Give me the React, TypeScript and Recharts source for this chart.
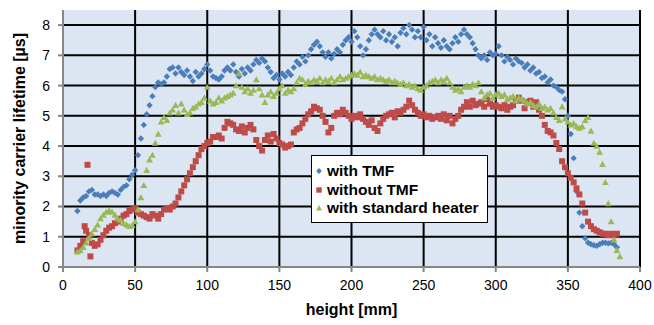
import { ScatterChart, Scatter, XAxis, YAxis, CartesianGrid, Legend, Label } from "recharts";

// ---------------------------------------------------------------------------
// Data (height in mm, lifetime in µs)
// ---------------------------------------------------------------------------

const xTicks = [0, 50, 100, 150, 200, 250, 300, 350, 400];
const yTicks = [0, 1, 2, 3, 4, 5, 6, 7, 8];
const seriesNames = ["with TMF", "without TMF", "with standard heater"];

const withTmf: [number, number][] = [
  [10, 1.85], [12, 2.2], [14, 2.3], [16, 2.35], [18, 2.5], [20, 2.55], [22, 2.4], [24, 2.4],
  [26, 2.35], [28, 2.4], [30, 2.35], [32, 2.45], [34, 2.5], [36, 2.45], [38, 2.4], [40, 2.55],
  [42, 2.65], [44, 2.7], [46, 2.9], [48, 3.05], [50, 3.2], [52, 3.7], [54, 4.25], [56, 4.7],
  [58, 5.05], [60, 5.35], [62, 5.65], [64, 5.95], [66, 6.1], [68, 6.05], [70, 6.1], [72, 6.3],
  [74, 6.55], [76, 6.6], [78, 6.4], [80, 6.6], [82, 6.45], [84, 6.35], [86, 6.5], [88, 6.3],
  [90, 6.15], [92, 6.45], [94, 6.3], [96, 6.4], [98, 6.55], [100, 6.7], [102, 6.5], [104, 6.3],
  [106, 6.25], [108, 6.2], [110, 6.3], [112, 6.5], [114, 6.6], [116, 6.5], [118, 6.7], [120, 6.45],
  [122, 6.3], [124, 6.55], [126, 6.4], [128, 6.6], [130, 6.5], [132, 6.7], [134, 6.85], [136, 6.75],
  [138, 6.9], [140, 6.8], [142, 6.6], [144, 6.45], [146, 6.25], [148, 6.35], [150, 6.2], [152, 6.4],
  [154, 6.3], [156, 6.45], [158, 6.35], [160, 6.6], [162, 6.8], [164, 6.7], [166, 6.95], [168, 6.8],
  [170, 7.0], [172, 7.2], [174, 7.35], [176, 7.45], [178, 7.3], [180, 7.1], [182, 6.95], [184, 7.1],
  [186, 6.9], [188, 7.05], [190, 7.2], [192, 7.1], [194, 7.35], [196, 7.5], [198, 7.6], [200, 7.45],
  [202, 7.8], [204, 7.6], [206, 7.3], [208, 7.0], [210, 7.2], [212, 7.5], [214, 7.7], [216, 7.85],
  [218, 7.7], [220, 7.6], [222, 7.8], [224, 7.5], [226, 7.7], [228, 7.45], [230, 7.6], [232, 7.3],
  [234, 7.75], [236, 7.9], [238, 7.7], [240, 8.0], [242, 7.85], [244, 7.6], [246, 7.8], [248, 7.6],
  [250, 7.95], [252, 7.5], [254, 7.7], [256, 7.3], [258, 7.6], [260, 7.4], [262, 7.25], [264, 7.5],
  [266, 7.3], [268, 7.2], [270, 7.4], [272, 7.6], [274, 7.45], [276, 7.7], [278, 7.85], [280, 7.7],
  [282, 7.6], [284, 7.4], [286, 7.2], [288, 7.0], [290, 6.9], [292, 7.0], [294, 6.85], [296, 7.1],
  [298, 7.0], [300, 7.05], [302, 7.3], [304, 7.0], [306, 6.8], [308, 6.95], [310, 6.85], [312, 6.7],
  [314, 6.9], [316, 6.8], [318, 6.75], [320, 6.6], [322, 6.7], [324, 6.5], [326, 6.6], [328, 6.4],
  [330, 6.45], [332, 6.25], [334, 6.3], [336, 6.1], [338, 6.2], [340, 6.0], [342, 5.95], [344, 5.85],
  [346, 5.8], [348, 5.55], [350, 5.0], [352, 4.4], [354, 3.6], [356, 2.5], [358, 1.8], [360, 1.35],
  [362, 0.95], [364, 0.8], [366, 0.75], [368, 0.72], [370, 0.7], [372, 0.75], [374, 0.8], [376, 0.8],
  [378, 0.78], [380, 0.8], [382, 0.75], [384, 0.65],
];

const withoutTmf: [number, number][] = [
  [10, 0.55], [12, 0.7], [14, 0.85], [15, 1.35], [16, 1.2], [17, 3.38], [18, 1.05], [19, 0.35],
  [20, 0.8], [22, 0.7], [24, 0.75], [26, 0.9], [28, 1.05], [30, 1.2], [32, 1.3], [34, 1.35],
  [36, 1.45], [38, 1.5], [40, 1.6], [42, 1.7], [44, 1.75], [46, 1.85], [48, 1.9], [50, 1.95],
  [52, 1.8], [54, 1.75], [56, 1.7], [58, 1.65], [60, 1.6], [62, 1.75], [64, 1.7], [66, 1.6],
  [68, 1.75], [70, 1.9], [72, 1.95], [74, 1.9], [76, 2.0], [78, 2.1], [80, 2.3], [82, 2.5],
  [84, 2.7], [86, 2.9], [88, 3.1], [90, 3.3], [92, 3.5], [94, 3.7], [96, 3.9], [98, 4.0],
  [100, 4.1], [102, 4.15], [104, 4.3], [106, 4.3], [108, 4.35], [110, 4.25], [112, 4.6], [114, 4.8],
  [116, 4.75], [118, 4.7], [120, 4.55], [122, 4.5], [124, 4.65], [126, 4.45], [128, 4.6], [130, 4.7],
  [132, 4.55], [134, 4.2], [136, 4.0], [138, 3.85], [140, 4.2], [142, 4.35], [144, 4.15], [146, 4.4],
  [148, 4.25], [150, 4.1], [152, 4.05], [154, 3.95], [156, 4.0], [158, 4.05], [160, 4.45], [162, 4.55],
  [164, 4.6], [166, 4.75], [168, 4.9], [170, 5.05], [172, 5.15], [174, 5.3], [176, 5.25], [178, 5.2],
  [180, 5.0], [182, 4.8], [184, 4.45], [186, 4.6], [188, 5.0], [190, 5.1], [192, 5.05], [194, 5.2],
  [196, 5.1], [198, 5.0], [200, 4.9], [202, 5.0], [204, 4.95], [206, 5.05], [208, 4.9], [210, 4.8],
  [212, 4.7], [214, 4.85], [216, 4.6], [218, 4.5], [220, 4.75], [222, 4.9], [224, 5.0], [226, 5.05],
  [228, 5.1], [230, 4.95], [232, 5.15], [234, 5.1], [236, 5.2], [238, 5.3], [240, 5.5], [242, 5.35],
  [244, 5.2], [246, 5.1], [248, 5.0], [250, 5.05], [252, 4.95], [254, 5.0], [256, 4.9], [258, 4.95],
  [260, 5.0], [262, 4.9], [264, 5.05], [266, 4.85], [268, 5.0], [270, 4.75], [272, 4.9], [274, 5.0],
  [276, 5.2], [278, 5.3], [280, 5.45], [282, 5.3], [284, 5.5], [286, 5.35], [288, 5.4], [290, 5.45],
  [292, 5.3], [294, 5.55], [296, 5.4], [298, 5.3], [300, 5.35], [302, 5.3], [304, 5.25], [306, 5.35],
  [308, 5.2], [310, 5.3], [312, 5.35], [314, 5.5], [316, 5.6], [318, 5.5], [320, 5.25], [322, 5.45],
  [324, 5.5], [326, 5.3], [328, 5.45], [330, 5.2], [332, 5.0], [334, 4.7], [336, 4.5], [338, 4.45],
  [340, 4.35], [342, 4.1], [344, 3.9], [346, 3.5], [348, 3.3], [350, 3.1], [352, 2.95], [354, 2.8],
  [356, 2.6], [358, 2.4], [360, 2.1], [362, 1.8], [364, 1.5], [366, 1.35], [368, 1.25], [370, 1.2],
  [372, 1.15], [374, 1.1], [376, 1.1], [378, 1.05], [380, 1.1], [382, 1.05], [384, 1.1],
];

const standardHeater: [number, number][] = [
  [10, 0.5], [12, 0.55], [14, 0.65], [16, 0.8], [18, 0.95], [20, 1.1], [22, 1.25], [24, 1.4],
  [26, 1.6], [28, 1.72], [30, 1.82], [32, 1.87], [34, 1.82], [36, 1.72], [38, 1.6], [40, 1.55],
  [42, 1.45], [44, 1.4], [46, 1.35], [48, 1.38], [50, 1.5], [52, 1.9], [54, 2.3], [56, 2.7],
  [58, 3.2], [60, 3.55], [62, 3.7], [64, 4.1], [66, 4.4], [68, 4.8], [70, 4.95], [72, 4.85],
  [74, 5.1], [76, 5.2], [78, 5.35], [80, 5.1], [82, 5.4], [84, 5.2], [86, 5.05], [88, 5.1],
  [90, 5.25], [92, 5.3], [94, 5.4], [96, 5.45], [98, 5.6], [100, 5.95], [102, 5.5], [104, 5.4],
  [106, 5.45], [108, 5.6], [110, 5.5], [112, 5.6], [114, 5.65], [116, 5.7], [118, 5.75], [120, 6.0],
  [122, 6.4], [124, 5.95], [126, 5.8], [128, 5.9], [130, 5.75], [132, 5.85], [134, 6.2], [136, 5.9],
  [138, 5.7], [140, 5.45], [142, 5.7], [144, 5.8], [146, 5.65], [148, 5.75], [150, 5.9], [152, 6.0],
  [154, 5.75], [156, 5.85], [158, 5.8], [160, 5.9], [162, 6.1], [164, 6.25], [166, 6.2], [168, 6.05],
  [170, 6.15], [172, 6.1], [174, 6.2], [176, 6.15], [178, 6.25], [180, 6.1], [182, 6.2], [184, 6.15],
  [186, 6.25], [188, 6.1], [190, 6.2], [192, 6.3], [194, 6.2], [196, 6.25], [198, 6.3], [200, 6.35],
  [202, 6.4], [204, 6.35], [206, 6.45], [208, 6.3], [210, 6.35], [212, 6.3], [214, 6.25], [216, 6.3],
  [218, 6.2], [220, 6.25], [222, 6.2], [224, 6.15], [226, 6.2], [228, 6.1], [230, 6.15], [232, 6.1],
  [234, 6.05], [236, 6.1], [238, 6.0], [240, 6.05], [242, 5.95], [244, 6.0], [246, 5.9], [248, 5.85],
  [250, 5.95], [252, 6.0], [254, 6.1], [256, 6.15], [258, 6.2], [260, 6.1], [262, 6.2], [264, 6.15],
  [266, 6.25], [268, 6.1], [270, 5.95], [272, 5.85], [274, 5.9], [276, 5.8], [278, 5.95], [280, 6.0],
  [282, 5.95], [284, 6.05], [286, 6.0], [288, 6.1], [290, 5.8], [292, 5.6], [294, 5.7], [296, 5.75],
  [298, 5.6], [300, 5.7], [302, 5.75], [304, 5.65], [306, 5.7], [308, 5.55], [310, 5.6], [312, 5.65],
  [314, 5.5], [316, 5.6], [318, 5.55], [320, 5.5], [322, 5.4], [324, 5.45], [326, 5.35], [328, 5.3],
  [330, 5.4], [332, 5.25], [334, 5.3], [336, 5.2], [338, 5.25], [340, 5.1], [342, 4.95], [344, 4.85],
  [346, 5.3], [348, 4.9], [350, 4.8], [352, 4.7], [354, 4.75], [356, 4.65], [358, 4.6], [360, 4.65],
  [362, 4.85], [364, 4.95], [366, 4.5], [368, 4.1], [370, 4.0], [372, 3.8], [374, 3.4], [376, 2.8],
  [378, 2.1], [380, 1.5], [382, 0.9], [384, 0.55], [386, 0.35],
];

// ---------------------------------------------------------------------------
// Styling
// ---------------------------------------------------------------------------

const BLUE = "#4a7ebb";
const RED = "#be4b48";
const GREEN = "#98b954";
const AXIS_GRAY = "#878787";
const FONT = "'Liberation Sans', Arial, sans-serif";

const toPoints = (rows: [number, number][]) => rows.map(([x, y]) => ({ x, y }));

// marker shapes, drawn around the point centre
const diamond = (cx: number, cy: number, r: number) =>
  `M${cx},${cy - r}L${cx + r},${cy}L${cx},${cy + r}L${cx - r},${cy}Z`;
const square = (cx: number, cy: number, r: number) =>
  `M${cx - r},${cy - r}h${2 * r}v${2 * r}h${-2 * r}Z`;
const triangle = (cx: number, cy: number, r: number) =>
  `M${cx},${cy - r}L${cx + r},${cy + r * 0.8}L${cx - r},${cy + r * 0.8}Z`;

const markers = [
  { color: BLUE, path: diamond, r: 3.2, legendR: 2.9 },
  { color: RED, path: square, r: 3, legendR: 2.7 },
  { color: GREEN, path: triangle, r: 3.4, legendR: 3 },
];

function LegendBox() {
  return (
    <div
      style={{
        width: 177,
        height: 68,
        boxSizing: "border-box",
        background: "#fff",
        border: "1px solid #000",
        padding: "6px 0 0 2px",
        fontFamily: FONT,
        fontWeight: "bold",
        fontSize: 15.5,
        color: "#000",
      }}
    >
      {seriesNames.map((name, i) => (
        <div key={name} style={{ display: "flex", alignItems: "center", height: 18.5 }}>
          <svg width={10} height={10} style={{ marginRight: 3 }}>
            <path d={markers[i].path(5, 5, markers[i].legendR)} fill={markers[i].color} />
          </svg>
          <span style={{ lineHeight: "18px" }}>{name}</span>
        </div>
      ))}
    </div>
  );
}

export default function App() {
  const series = [withTmf, withoutTmf, standardHeater];
  return (
    <div style={{ width: 654, height: 325, fontFamily: FONT }}>
      <style>{"body{margin:0}"}</style>
      <ScatterChart width={654} height={325} margin={{ top: 10, right: 14, bottom: 8, left: 13 }}>
        <CartesianGrid fill="#dce6f2" stroke="#000" strokeWidth={2} horizontalValues={yTicks} verticalValues={xTicks} />
        <XAxis
          type="number"
          dataKey="x"
          domain={[0, 400]}
          ticks={xTicks}
          height={50}
          tickSize={5}
          tickMargin={8}
          axisLine={{ stroke: AXIS_GRAY, strokeWidth: 2 }}
          tickLine={{ stroke: AXIS_GRAY, strokeWidth: 2 }}
          tick={{ fill: "#000", fontSize: 14 }}
          allowDataOverflow
        >
          <Label
            value="height [mm]"
            position="insideBottom"
            offset={2}
            style={{ fontWeight: "bold", fontSize: 16, fill: "#000" }}
          />
        </XAxis>
        <YAxis
          type="number"
          dataKey="y"
          domain={[0, 8.5]}
          ticks={yTicks}
          width={50}
          tickSize={5}
          tickMargin={8}
          axisLine={{ stroke: AXIS_GRAY, strokeWidth: 2 }}
          tickLine={{ stroke: AXIS_GRAY, strokeWidth: 2 }}
          tick={{ fill: "#000", fontSize: 14 }}
          allowDataOverflow
        >
          <Label
            value="minority carrier lifetime [µs]"
            angle={-90}
            position="insideLeft"
            offset={6}
            style={{ fontWeight: "bold", fontSize: 16, fill: "#000", textAnchor: "middle" }}
          />
        </YAxis>
        <Legend
          layout="horizontal"
          verticalAlign="middle"
          align="center"
          content={() => <LegendBox />}
          wrapperStyle={{ left: 311, top: 155, width: 177, height: 68 }}
        />
        {series.map((rows, i) => (
          <Scatter
            key={seriesNames[i]}
            name={seriesNames[i]}
            data={toPoints(rows)}
            isAnimationActive={false}
            shape={(p: any) => (
              <path d={markers[i].path(p.cx, p.cy, markers[i].r)} fill={markers[i].color} />
            )}
          />
        ))}
      </ScatterChart>
    </div>
  );
}
